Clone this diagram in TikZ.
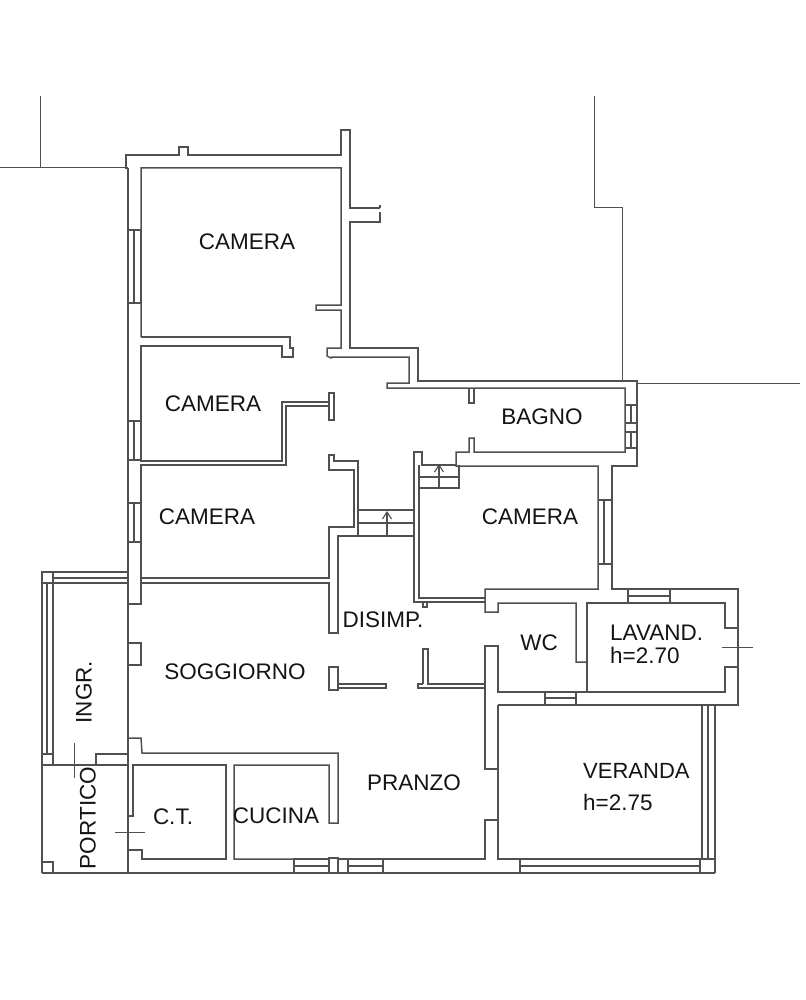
\documentclass[tikz,border=0pt]{standalone}
\usepackage{fontspec}
\setmainfont{Liberation Sans}
\usetikzlibrary{arrows.meta}
\definecolor{wallc}{HTML}{505050}
\definecolor{textc}{HTML}{141414}
\tikzset{
  wall/.style={draw=wallc,line width=1.5pt,line join=miter},
  thin wall/.style={draw=wallc,line width=1.1pt},
  siteline/.style={draw=wallc,line width=1pt},
  roomlabel/.style={inner sep=0pt,text=textc,font=\fontsize{22.5}{24}\selectfont},
  uparrow/.style={draw=wallc,line width=1.1pt,-{Straight Barb[length=7pt,width=9pt]}}
}
\begin{document}
\begin{tikzpicture}[x=1pt,y=-1pt]
\useasboundingbox (0,0) rectangle (805,1000);
\fill[white] (0,0) rectangle (805,1000);
% site lines
\draw[siteline] (40,96) -- (40,168);
\draw[siteline] (0,168) -- (128,168);
\draw[siteline] (594,96) -- (594,208) -- (622,208) -- (622,381);
\draw[siteline] (637,383) -- (800,383);
% outer top wall and north-east jog
\draw[wall] (128,168) -- (126,168) -- (126,155) -- (179,155) -- (179,147) -- (188,147) -- (188,155) -- (341,155) -- (341,130) -- (350,130) -- (350,208) -- (380,208);
\draw[wall] (380,205) -- (380,208);
\draw[wall] (380,212) -- (380,222) -- (350,222) -- (350,348) -- (418,348) -- (418,381) -- (637,381) -- (637,466) -- (612,466) -- (612,589) -- (738,589) -- (738,705) -- (498,705);
% left outer wall
\draw[wall] (128,168) -- (128,873);
% camera 1
\draw[wall] (141,337) -- (141,168) -- (341,168) -- (341,305) -- (316,305) -- (316,310) -- (341,310) -- (341,348) -- (327,348) -- (327,356) -- (331,358) -- (332,357) -- (409,357) -- (409,383) -- (387,383) -- (387,388) -- (625,388) -- (625,452) -- (474,452) -- (474,438) -- (469,438) -- (469,452) -- (456,452) -- (456,466) -- (598,466) -- (598,589) -- (485,589) -- (485,612) -- (498,612) -- (498,603) -- (576,603) -- (576,662) -- (587,662);
\draw[wall] (141,337) -- (290,337) -- (290,348) -- (293,348) -- (293,357) -- (282,357) -- (282,346) -- (141,346) -- (141,461) -- (282,461) -- (282,402) -- (329,402);
% bagno door stub
\draw[wall] (469,388) -- (469,403) -- (474,403) -- (474,388);
% door jamb T
\draw[wall] (329,393) rectangle (334,420);
\draw[wall] (329,406) -- (286,406) -- (286,465) -- (141,465) -- (141,578) -- (329,578) -- (329,527) -- (354,527) -- (354,470) -- (329,470) -- (329,455) -- (334,455) -- (334,461) -- (358,461) -- (358,536);
% soggiorno
\draw[wall] (141,578) -- (141,583);
\draw[wall] (128,604) -- (141,604) -- (141,583) -- (329,583) -- (329,633) -- (338,633) -- (338,536) -- (414,536);
\draw[wall] (128,643) -- (141,643) -- (141,665) -- (128,665);
\draw[wall] (128,738) -- (141,738) -- (142,753) -- (338,753) -- (338,823) -- (329,823) -- (329,765) -- (234,765) -- (234,859) -- (294,859);
\draw[wall] (128,754) -- (96,754) -- (96,765);
% camera right / stairs
\draw[wall] (456,465) -- (422,465) -- (422,452) -- (414,452) -- (414,602) -- (485,602);
\draw[wall] (419,465) -- (419,598) -- (485,598);
\draw[wall] (423,603) -- (423,607) -- (427,607) -- (427,603);
\draw[thin wall] (359,510) -- (414,510) (358,523) -- (414,523);
\draw[thin wall] (419,477) -- (459,477) (419,488) -- (459,488) -- (459,465);
\node[coordinate] (arrowA) at (387,536) {};
\node[coordinate] (arrowAt) at (387,511) {};
\node[coordinate] (arrowB) at (439,488) {};
\node[coordinate] (arrowBt) at (439,464) {};
\draw[uparrow] (arrowA) -- (arrowAt);
\draw[uparrow] (arrowB) -- (arrowBt);
% wc, lavanderia
\draw[wall] (587,692) -- (587,603) -- (725,603) -- (725,628) -- (738,628);
\draw[wall] (738,667) -- (725,667) -- (725,692) -- (498,692) -- (498,646) -- (485,646) -- (485,769) -- (498,769);
\draw[wall] (498,705) -- (498,859) -- (702,859);
\draw[wall] (498,820) -- (485,820) -- (485,859) -- (383,859);
% disimpegno doors
\draw[wall] (329,667) rectangle (338,690);
\draw[wall] (338,684) -- (386,684) -- (386,688) -- (338,688);
\draw[wall] (423,684) -- (423,649) -- (428,649) -- (428,684) -- (485,684);
\draw[wall] (423,684) -- (418,684) -- (418,688) -- (485,688);
% veranda
\draw[wall] (702,705) -- (702,859);
\draw[thin wall] (708,705) -- (708,859);
\draw[wall] (715,705) -- (715,873);
\draw[wall] (700,859) -- (715,859);
\draw[wall] (700,859) -- (700,873);
\draw[thin wall] (520,866) -- (700,866);
\draw[wall] (520,859) -- (520,873);
% bottom wall
\draw[wall] (42,873) -- (715,873);
\draw[wall] (348,859) rectangle (383,873);
\draw[thin wall] (348,866) -- (383,866);
\draw[wall] (329,858) rectangle (338,873);
\draw[wall] (338,859) -- (348,859);
\draw[wall] (294,859) rectangle (329,873);
\draw[thin wall] (294,866) -- (329,866);
% portico & ingresso
\draw[wall] (42,873) -- (42,572) -- (128,572);
\draw[thin wall] (53,578) -- (128,578);
\draw[wall] (53,583) -- (128,583);
\draw[wall] (42,583) -- (53,583) -- (53,572);
\draw[thin wall] (47,583) -- (47,754);
\draw[wall] (53,583) -- (53,765);
\draw[wall] (42,754) -- (53,754);
\draw[wall] (42,765) -- (128,765);
\draw[wall] (42,862) -- (53,862) -- (53,873);
\draw[siteline] (74,743) -- (74,778);
% c.t.
\draw[wall] (128,816) -- (133,816) -- (133,765) -- (226,765) -- (226,859) -- (142,859) -- (142,850) -- (128,850);
\draw[siteline] (115,832) -- (145,832);
% windows
\draw[wall] (128,230) -- (141,230) (128,303) -- (141,303);
\draw[thin wall] (134,230) -- (134,303);
\draw[wall] (141,230) -- (141,303);
\draw[wall] (128,421) -- (141,421) (128,460) -- (141,460);
\draw[thin wall] (134,421) -- (134,460);
\draw[wall] (128,503) -- (141,503) (128,542) -- (141,542);
\draw[thin wall] (134,503) -- (134,542);
\draw[wall] (598,500) -- (612,500) (598,564) -- (612,564);
\draw[thin wall] (604,500) -- (604,564);
\draw[wall] (625,405) -- (637,405) (625,423) -- (637,423) (625,432) -- (637,432) (625,448) -- (637,448);
\draw[thin wall] (631,405) -- (631,423) (631,432) -- (631,448);
\draw[wall] (628,589) -- (628,603) (670,589) -- (670,603);
\draw[thin wall] (628,596) -- (670,596);
\draw[wall] (545,692) -- (545,705) (576,692) -- (576,705);
\draw[thin wall] (545,698) -- (576,698);
\draw[siteline] (722,647) -- (753,647);
% labels
\node[roomlabel] (cam1) at (247,242) {CAMERA};
\node[roomlabel] (cam2) at (213,404) {CAMERA};
\node[roomlabel] (cam3) at (207,517) {CAMERA};
\node[roomlabel] (cam4) at (530,517) {CAMERA};
\node[roomlabel] (bagno) at (542,417) {BAGNO};
\node[roomlabel] (disimp) at (383,620) {DISIMP.};
\node[roomlabel] (wc) at (539,643) {WC};
\node[roomlabel,anchor=west] (lav) at (610,633) {LAVAND.};
\node[roomlabel,anchor=west] (lavh) at (610,655) {h=2.70};
\node[roomlabel,anchor=west,font=\fontsize{22}{24}\selectfont] (ver) at (583,771) {VERANDA};
\node[roomlabel,anchor=west] (verh) at (583,802) {h=2.75};
\node[roomlabel] (pranzo) at (414,783) {PRANZO};
\node[roomlabel] (sogg) at (235,672) {SOGGIORNO};
\node[roomlabel,rotate=90] (ingr) at (84,692) {INGR.};
\node[roomlabel,rotate=90] (portico) at (88,818) {PORTICO};
\node[roomlabel] (ct) at (173,817) {C.T.};
\node[roomlabel] (cucina) at (276,816) {CUCINA};
\end{tikzpicture}
\end{document}
